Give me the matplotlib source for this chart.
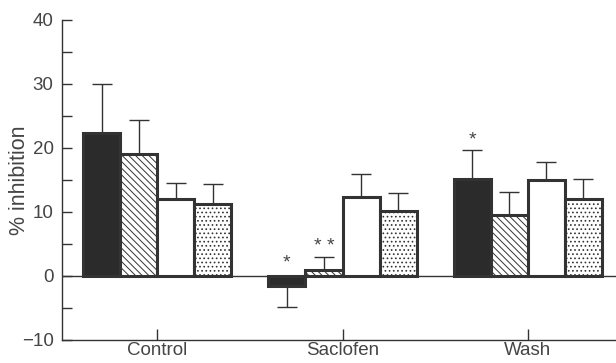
"""% inhibition bar chart: Control / Saclofen / Wash, four conditions each"""
import numpy as np
import matplotlib
matplotlib.use('Agg')
import matplotlib.pyplot as plt

groups = ['Control', 'Saclofen', 'Wash']

# one list per bar style (solid, hatched, open, dotted), values per group
solid = [22.3, -1.5, 15.2]
solid_err = [7.7, 3.4, 4.5]
hatched = [19.0, 1.0, 9.6]
hatched_err = [5.4, 2.0, 3.5]
open_ = [12.0, 12.3, 15.0]
open_err = [2.5, 3.6, 2.8]
dotted = [11.3, 10.1, 12.1]
dotted_err = [3.1, 2.8, 3.1]

# significance marks per group, per bar
solid_sig = ['', '*', '*']
hatched_sig = ['', '* *', '']

INK = '#333333'
TXT = '#454545'
plt.rcParams['hatch.linewidth'] = 0.7
plt.rcParams['hatch.color'] = INK
plt.rcParams['font.family'] = ['Liberation Sans', 'DejaVu Sans']

fig = plt.figure(figsize=(6.16, 3.63), dpi=100)
ax = fig.add_axes([62 / 616, 1 - 340 / 363, 1 - 62 / 616, (340 - 20) / 363])

x = np.arange(len(groups))
width = 0.2
series = [
    (solid, solid_err, '#2b2b2b', ''),
    (hatched, hatched_err, 'white', '\\\\\\\\\\'),
    (open_, open_err, 'white', ''),
    (dotted, dotted_err, 'white', '....'),
]

for i, (vals, errs, fc, hatch) in enumerate(series):
    pos = x + (i - 1.5) * width
    ax.bar(pos, vals, width, color=fc, edgecolor=INK, linewidth=2.2,
           hatch=hatch, zorder=2)
    vals = np.array(vals)
    errs = np.array(errs)
    lower = np.where(vals < 0, errs, 0)
    upper = np.where(vals >= 0, errs, 0)
    ax.errorbar(pos, vals, yerr=[lower, upper], fmt='none', ecolor=INK,
                elinewidth=1.0, capsize=7, capthick=1.0, zorder=1)

# asterisks
for sigs, vals, errs, off in [(solid_sig, solid, solid_err, -1.5),
                              (hatched_sig, hatched, hatched_err, -0.5)]:
    for g, s in enumerate(sigs):
        if not s:
            continue
        top = vals[g] + errs[g] if vals[g] >= 0 else 0.4
        ax.text(x[g] + off * width, top + 1.6, s, ha='center', va='center',
                fontsize=14, color=TXT)

ax.axhline(0, color=INK, linewidth=1.0, zorder=1)

ax.set_xlim(-0.514, 2.476)
ax.set_ylim(-10, 40)
ax.set_yticks(range(-10, 41, 10))
ax.set_yticklabels(['\u221210', '0', '10', '20', '30', '40'])
ax.set_yticks(range(-5, 40, 10), minor=True)
ax.set_xticks(x)
ax.set_xticklabels(groups)

ax.spines['top'].set_visible(False)
ax.spines['right'].set_visible(False)
for sp in ('left', 'bottom'):
    ax.spines[sp].set_color(INK)
    ax.spines[sp].set_linewidth(1.0)

ax.tick_params(axis='both', which='both', direction='in', color=INK,
               labelcolor=TXT, width=1.0)
ax.tick_params(axis='y', which='both', length=7, pad=6, labelsize=13.5)
ax.tick_params(axis='x', length=8, pad=1.5, labelsize=13.5)
ax.set_ylabel('% inhibition', fontsize=15.5, color=TXT)
ax.yaxis.set_label_coords(-0.058, 0.5)

fig.savefig('out.png', dpi=100)
